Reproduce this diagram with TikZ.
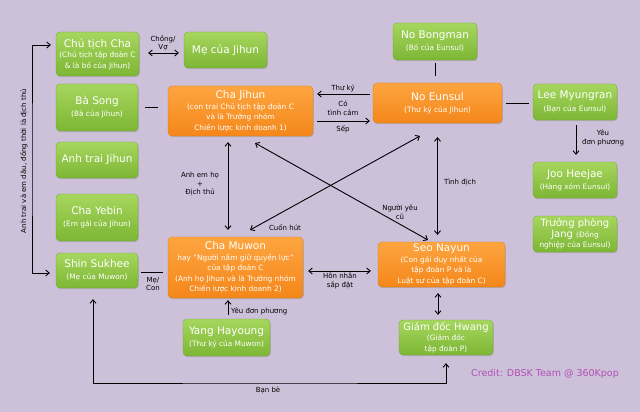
\documentclass[tikz,border=0pt]{standalone}
\usepackage{fontspec}
\setmainfont{DejaVu Sans}
\usetikzlibrary{arrows.meta,calc,shadows}
\definecolor{bgc}{HTML}{CDC1DA}
\definecolor{gtop}{HTML}{A6D65E}
\definecolor{gbot}{HTML}{7DB635}
\definecolor{otop}{HTML}{FDA540}
\definecolor{obot}{HTML}{F4871A}
\definecolor{credc}{HTML}{B04FB4}
\tikzset{
  box/.style={rounded corners=4pt, align=center, text=white, inner sep=1pt,
    drop shadow={shadow xshift=0.8pt, shadow yshift=-1.2pt, opacity=0.35}},
  gbox/.style={box, top color=gtop, bottom color=gbot, draw=gbot!90!black, line width=0.3pt},
  obox/.style={box, top color=otop, bottom color=obot, draw=obot!90!black, line width=0.3pt},
  ttl/.style={font=\fontsize{10.5}{12}\selectfont},
  lbl/.style={font=\fontsize{7}{8.5}\selectfont, text=black, align=center, inner sep=0pt},
  conn/.style={line width=0.9pt, black},
  dbl/.style={conn, {Straight Barb[length=3.5pt,width=6pt]}-{Straight Barb[length=3.5pt,width=6pt]}},
  one/.style={conn, -{Straight Barb[length=3.5pt,width=6pt]}},
}
\newcommand{\subt}[1]{{\fontsize{7.4}{9}\selectfont #1}}
\newcommand{\ttlt}[1]{{\fontsize{10.5}{11.5}\selectfont #1}}
\newcommand{\ttls}[1]{{\fontsize{10}{11}\selectfont #1}}
\begin{document}
\begin{tikzpicture}[x=1pt,y=-1pt]
\fill[bgc] (0,0) rectangle (640,412);
\useasboundingbox (0,0) rectangle (640,412);

% green boxes
\node[gbox, minimum width=83pt, minimum height=44pt] (chu) at (97.5,54)
  {\ttlt{Chủ tịch Cha}\\[-1.5pt]\subt{(Chủ tịch tập đoàn C}\\[-1.5pt]\subt{\& là bố của Jihun)}};
\node[gbox, minimum width=83pt, minimum height=36pt, ttl] (me) at (225.5,50) {Mẹ của Jihun};
\node[gbox, minimum width=82pt, minimum height=47pt] (basong) at (97,107.5)
  {\ttlt{Bà Song}\\\subt{(Bà của Jihun)}};
\node[gbox, minimum width=82pt, minimum height=36pt, ttl] (anhtrai) at (97,160) {Anh trai Jihun};
\node[gbox, minimum width=82pt, minimum height=47pt] (yebin) at (97,217.5)
  {\ttlt{Cha Yebin}\\\subt{(Em gái của Jihun)}};
\node[gbox, minimum width=82pt, minimum height=35pt] (shin) at (97,270.5)
  {\ttlt{Shin Sukhee}\\\subt{(Mẹ của Muwon)}};
\node[gbox, minimum width=87pt, minimum height=37pt] (yang) at (226.5,337.5)
  {\ttlt{Yang Hayoung}\\\subt{(Thư ký của Muwon)}};
\node[gbox, minimum width=84pt, minimum height=37pt] (bongman) at (435,41.5)
  {\ttlt{No Bongman}\\\subt{(Bố của Eunsul)}};
\node[gbox, minimum width=84pt, minimum height=36pt] (lee) at (575,102)
  {\ttlt{Lee Myungran}\\[1pt]\subt{(Bạn của Eunsul)}};
\node[gbox, minimum width=84pt, minimum height=36pt] (joo) at (575,180)
  {\ttlt{Joo Heejae}\\\subt{(Hàng xóm Eunsul)}};
\node[gbox, minimum width=84pt, minimum height=36pt] (jang) at (575,234)
  {\ttls{Trưởng phòng}\\[-1.5pt]\ttls{Jang} \subt{(Đồng}\\[-1.5pt]\subt{nghiệp của Eunsul)}};
\node[gbox, minimum width=94pt, minimum height=35pt] (hwang) at (446,337.5)
  {\ttls{Giám đốc Hwang}\\[-1.5pt]\subt{(Giám đốc}\\[-1.5pt]\subt{tập đoàn P)}};

% orange boxes
\node[obox, minimum width=145pt, minimum height=50pt] (jihun) at (240.5,111)
  {\ttlt{Cha Jihun}\\[-1.5pt]\subt{(con trai Chủ tịch tập đoàn C}\\[-1.5pt]\subt{và là Trưởng nhóm}\\[-1.5pt]\subt{Chiến lược kinh doanh 1)}};
\node[obox, minimum width=129pt, minimum height=40pt] (eunsul) at (437.5,103)
  {\ttlt{No Eunsul}\\\subt{(Thư ký của Jihun)}};
\node[obox, minimum width=135pt, minimum height=61pt] (muwon) at (235.5,267.5)
  {\ttlt{Cha Muwon}\\[-1.5pt]\subt{hay "Người nắm giữ quyền lực"}\\[-1.5pt]\subt{của tập đoàn C}\\[-1.5pt]\subt{(Anh họ Jihun và là Trưởng nhóm}\\[-1.5pt]\subt{Chiến lược kinh doanh 2)}};
\node[obox, minimum width=127pt, minimum height=45pt] (seo) at (441.5,264.5)
  {\ttlt{Seo Nayun}\\[-1.5pt]\subt{(Con gái duy nhất của}\\[-1.5pt]\subt{tập đoàn P và là}\\[-1.5pt]\subt{Luật sư của tập đoàn C)}};

% connectors
\draw[dbl, shorten <=9pt, shorten >=5pt] (chu.east |- 0,53) -- (me.west |- 0,53);
\node[lbl] (lchong) at (163,43) {Chồng/\\Vợ};

\draw[conn, shorten <=7pt, shorten >=10pt] (basong.east |- 0,107) -- (jihun.west |- 0,107);

\draw[one, shorten <=3pt, shorten >=4pt] (eunsul.west |- 0,94) -- (jihun.east |- 0,94);
\draw[one, shorten <=4pt, shorten >=3pt] (jihun.east |- 0,121) -- (eunsul.west |- 0,121);
\node[lbl] (lthuky) at (343,88) {Thư ký};
\node[lbl] (lcotc) at (343,108) {Có\\tình cảm};
\node[lbl] (lsep) at (343,129) {Sếp};

\draw[conn, shorten <=3pt, shorten >=7pt] (bongman.south) -- (bongman.south |- eunsul.north);
\draw[conn, shorten <=4pt, shorten >=4pt] (eunsul.east |- 0,103) -- (lee.west |- 0,103);

\draw[one, shorten <=5pt, shorten >=7pt] (lee.south -| 576,0) -- (joo.north -| 576,0);
\node[lbl] (lyeu1) at (603,138) {Yêu\\đơn phương};

\draw[dbl, shorten <=14pt, shorten >=7pt] (eunsul.south) -- (eunsul.south |- seo.north);
\node[lbl] (ltinhdich) at (460,182) {Tình địch};

\coordinate (dj1) at (255,143);
\coordinate (ds1) at (428,240);
\draw[dbl] (dj1) -- (ds1);
\coordinate (de1) at (420,136);
\coordinate (dm1) at (250,230);
\draw[dbl] (de1) -- (dm1);
\node[lbl] (lnyc) at (400,212) {Người yêu\\cũ};
\node[lbl] (lcuonhut) at (285,228) {Cuốn hút};

\draw[dbl, shorten <=6pt, shorten >=7pt] (jihun.south -| 228,0) -- (muwon.north -| 228,0);
\node[lbl] (lanhem) at (200,184) {Anh em họ\\+\\Địch thủ};

\draw[dbl, shorten <=5pt, shorten >=7pt] (muwon.east |- 0,271) -- (seo.west |- 0,271);
\node[lbl] (lhonnhan) at (340,281) {Hôn nhân\\sắp đặt};

\draw[one, shorten <=4pt, shorten >=2pt] (yang.north -| 228,0) -- (muwon.south -| 228,0);
\node[lbl, anchor=west] (lyeu2) at (231,311) {Yêu đơn phương};

\draw[dbl, shorten <=6pt, shorten >=5pt] (seo.south -| 438,0) -- (hwang.north -| 438,0);

\draw[conn, shorten <=3pt, shorten >=5pt] (shin.east |- 0,272) -- (muwon.west |- 0,272);
\node[lbl] (lmecon) at (153,284) {Mẹ/\\Con};

\coordinate (lb) at (32,160);
\draw[dbl, shorten <=5pt, shorten >=6pt] (chu.west |- 0,45) -| (lb) |- (shin.west |- 0,273);
\node[lbl, rotate=90] (lanhtrai) at (24,161) {Anh trai và em dâu, đồng thời là địch thủ};

\coordinate (bb) at (270,383);
\draw[dbl, shorten <=11pt, shorten >=8pt] (shin.south -| 93,0) |- (bb) -| (hwang.south -| 446,0);
\node[lbl] (lbanbe) at (268,390) {Bạn bè};

\node[font=\fontsize{9.5}{11}\selectfont, text=credc, inner sep=0pt] (credit) at (545,374) {Credit: DBSK Team @ 360Kpop};
\end{tikzpicture}
\end{document}
